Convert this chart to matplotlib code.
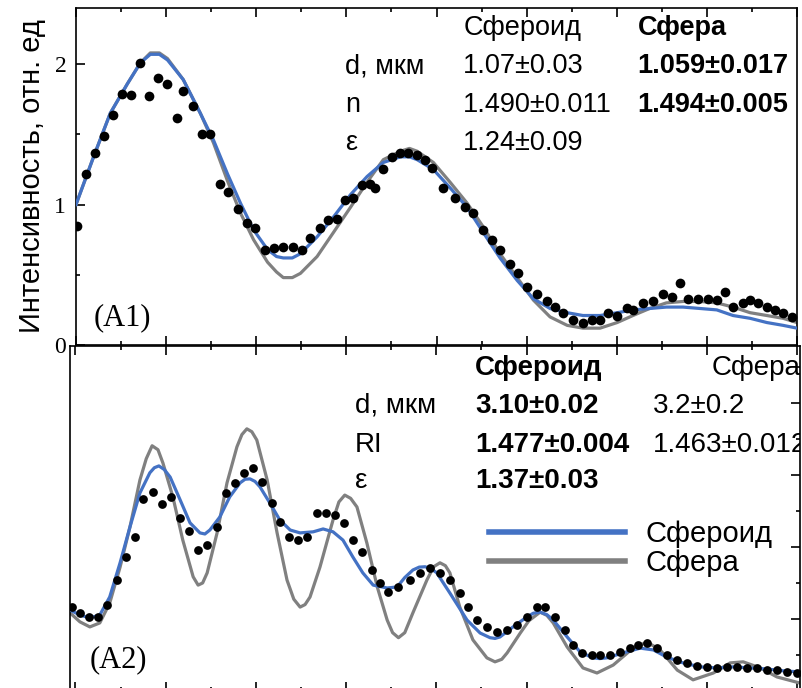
import numpy as np
import matplotlib
matplotlib.use("Agg")
import matplotlib.pyplot as plt
from matplotlib.ticker import MultipleLocator, NullFormatter
from matplotlib.lines import Line2D

plt.rcParams['font.family'] = ['Liberation Sans', 'DejaVu Sans']

BLUE = '#4472C4'
GRAY = '#808080'

# ---- panel A1: measured points and two fits ----
a1_x = [0.03, 0.23, 0.43, 0.63, 0.83, 1.03, 1.23, 1.43, 1.61, 1.81, 2.03, 2.25, 2.38,
        2.60, 2.80, 2.98, 3.20, 3.38, 3.60, 3.80, 3.98, 4.20, 4.40, 4.60, 4.82, 5.02,
        5.20, 5.42, 5.60, 5.80, 5.98, 6.15, 6.35, 6.53, 6.64, 6.82, 7.02, 7.20, 7.37,
        7.57, 7.75, 7.90, 8.15, 8.41, 8.64, 8.81, 9.04, 9.24, 9.41, 9.64, 9.81, 10.01,
        10.23, 10.45, 10.63, 10.81, 11.03, 11.25, 11.45, 11.63, 11.81, 12.01, 12.23,
        12.36, 12.58, 12.80, 13.03, 13.23, 13.40, 13.58, 13.80, 14.02, 14.22, 14.40,
        14.58, 14.80, 14.96, 15.13, 15.33, 15.51, 15.69, 15.89]
a1_y = [0.85, 1.22, 1.37, 1.49, 1.64, 1.79, 1.78, 2.01, 1.77, 1.90, 1.86, 1.62, 1.81,
        1.70, 1.50, 1.50, 1.15, 1.09, 0.97, 0.87, 0.83, 0.68, 0.69, 0.70, 0.70, 0.68,
        0.76, 0.83, 0.89, 0.90, 1.03, 1.05, 1.14, 1.15, 1.12, 1.25, 1.34, 1.37, 1.37,
        1.35, 1.32, 1.26, 1.12, 1.05, 0.98, 0.94, 0.82, 0.75, 0.68, 0.58, 0.51, 0.41,
        0.36, 0.31, 0.27, 0.23, 0.18, 0.16, 0.18, 0.18, 0.23, 0.21, 0.26, 0.25, 0.30,
        0.31, 0.36, 0.34, 0.44, 0.33, 0.33, 0.33, 0.32, 0.38, 0.27, 0.30, 0.32, 0.30,
        0.27, 0.25, 0.23, 0.20]

a1_fit_x = [0.0, 0.39, 0.76, 1.14, 1.43, 1.65, 1.85, 2.03, 2.38, 2.76, 3.05, 3.36, 3.65,
            3.94, 4.25, 4.45, 4.60, 4.80, 4.98, 5.35, 5.71, 6.09, 6.46, 6.82, 7.20, 7.40,
            7.57, 7.93, 8.30, 8.68, 9.04, 9.41, 9.79, 10.15, 10.52, 10.90, 11.25, 11.63,
            12.01, 12.36, 12.73, 13.10, 13.47, 13.85, 14.22, 14.58, 14.96, 15.33, 15.69,
            16.0]
a1_spheroid = [1.00, 1.34, 1.65, 1.86, 2.01, 2.07, 2.07, 2.03, 1.89, 1.65, 1.46, 1.22, 1.01,
               0.82, 0.68, 0.63, 0.62, 0.62, 0.65, 0.77, 0.91, 1.07, 1.20, 1.30, 1.34, 1.34,
               1.32, 1.25, 1.12, 0.98, 0.80, 0.62, 0.46, 0.33, 0.26, 0.23, 0.21, 0.21,
               0.23, 0.25, 0.26, 0.27, 0.27, 0.26, 0.25, 0.21, 0.19, 0.16, 0.14,
               0.12]
a1_sphere = [1.00, 1.34, 1.65, 1.86, 2.01, 2.08, 2.08, 2.04, 1.89, 1.65, 1.44, 1.17, 0.94,
             0.75, 0.59, 0.52, 0.48, 0.48, 0.51, 0.63, 0.80, 0.98, 1.16, 1.32, 1.38, 1.40,
             1.38, 1.30, 1.16, 1.01, 0.84, 0.65, 0.48, 0.32, 0.20, 0.14, 0.12, 0.12,
             0.16, 0.21, 0.26, 0.30, 0.31, 0.31, 0.30, 0.27, 0.23, 0.21, 0.19,
             0.16]

# ---- panel A2 ----
a2_x = [-0.08, 0.10, 0.30, 0.50, 0.70, 0.92, 1.12, 1.32, 1.50, 1.72, 1.92, 2.12, 2.32,
        2.52, 2.72, 2.92, 3.14, 3.34, 3.54, 3.74, 3.94, 4.14, 4.36, 4.53, 4.73, 4.93,
        5.13, 5.35, 5.55, 5.75, 5.95, 6.15, 6.35, 6.57, 6.75, 6.93, 7.15, 7.42, 7.64,
        7.86, 8.08, 8.30, 8.52, 8.70, 8.90, 9.12, 9.34, 9.57, 9.79, 10.01, 10.23, 10.41,
        10.63, 10.85, 11.03, 11.23, 11.45, 11.63, 11.85, 12.07, 12.30, 12.47, 12.67,
        12.89, 13.11, 13.34, 13.56, 13.78, 14.00, 14.22, 14.45, 14.67, 14.89, 15.11,
        15.33, 15.55, 15.77, 16.00]
a2_y = [2.33, 2.17, 2.06, 2.06, 2.39, 3.08, 3.72, 4.28, 5.33, 5.53, 5.19, 5.39, 4.81,
        4.44, 3.92, 4.06, 4.56, 5.50, 5.78, 6.06, 6.19, 5.81, 5.22, 4.69, 4.28, 4.19,
        4.28, 4.94, 4.94, 4.89, 4.67, 4.19, 3.86, 3.36, 3.00, 2.75, 2.89, 3.08, 3.28,
        3.42, 3.28, 3.08, 2.72, 2.33, 1.97, 1.78, 1.64, 1.69, 1.83, 2.06, 2.33, 2.33,
        2.06, 1.69, 1.28, 1.06, 1.00, 1.00, 1.00, 1.08, 1.19, 1.28, 1.33,
        1.19, 1.00, 0.86, 0.78, 0.69, 0.67, 0.64, 0.67, 0.67, 0.64, 0.64,
        0.58, 0.58, 0.53, 0.50]

a2_spheroid_x = [-0.12, 0.10, 0.32, 0.54, 0.76, 0.99, 1.21, 1.43, 1.65, 1.75, 1.85, 1.97,
                 2.10, 2.32, 2.54, 2.76, 2.87, 2.98, 3.20, 3.42, 3.65, 3.76, 3.87, 3.98,
                 4.09, 4.31, 4.53, 4.76, 4.98, 5.27, 5.49, 5.71, 5.93, 6.15, 6.37, 6.60,
                 6.91, 7.13, 7.30, 7.48, 7.62, 7.75, 7.88, 8.01, 8.30, 8.68, 8.97, 9.19,
                 9.30, 9.41, 9.70, 10.01, 10.15, 10.30, 10.45, 10.59, 10.90, 11.19, 11.47,
                 11.62, 11.78, 12.14, 12.52, 12.81, 13.11, 13.47, 13.85, 14.22, 14.58,
                 14.96, 15.33, 15.69, 16.06]
a2_spheroid = [2.25, 2.11, 2.03, 2.11, 2.61, 3.56, 4.56, 5.50, 6.06, 6.20, 6.25, 6.15,
               5.94, 5.31, 4.67, 4.39, 4.36, 4.47, 4.83, 5.39, 5.78, 5.88, 5.89, 5.82,
               5.67, 5.22, 4.75, 4.47, 4.39, 4.42, 4.50, 4.42, 4.19, 3.72, 3.28, 2.94,
               2.86, 2.89, 3.15, 3.36, 3.44, 3.45, 3.40, 3.28, 2.72, 1.97, 1.61, 1.48,
               1.46, 1.50, 1.78, 2.06, 2.16, 2.19, 2.12, 1.97, 1.50, 1.08, 0.92,
               0.90, 0.92, 1.06, 1.19, 1.14, 0.94, 0.78, 0.67, 0.64, 0.67,
               0.64, 0.61, 0.56, 0.53]

a2_sphere_x = [-0.12, 0.10, 0.32, 0.54, 0.76, 0.99, 1.21, 1.43, 1.57, 1.70, 1.83, 1.94,
               2.16, 2.38, 2.61, 2.72, 2.82, 2.92, 3.14, 3.36, 3.58, 3.69, 3.80, 3.91,
               4.02, 4.25, 4.47, 4.69, 4.84, 4.98, 5.09, 5.20, 5.42, 5.71, 5.84, 5.97,
               6.10, 6.24, 6.46, 6.69, 6.91, 7.03, 7.16, 7.30, 7.48, 7.79, 7.94, 8.08,
               8.20, 8.30, 8.52, 8.81, 9.12, 9.30, 9.45, 9.57, 9.86, 10.05, 10.30, 10.45,
               10.59, 10.90, 11.25, 11.56, 11.92, 12.36, 12.67, 12.96, 13.34, 13.69,
               14.14, 14.51, 14.80, 15.18, 15.55, 16.06]
a2_sphere = [2.17, 1.92, 1.78, 1.89, 2.44, 3.44, 4.56, 5.86, 6.45, 6.81, 6.70, 6.33,
             5.39, 4.19, 3.17, 2.94, 3.00, 3.28, 4.39, 5.78, 6.78, 7.12, 7.28, 7.20,
             6.97, 5.86, 4.39, 3.08, 2.55, 2.33, 2.40, 2.61, 3.44, 4.75, 5.25, 5.44,
             5.35, 5.11, 4.11, 2.89, 1.97, 1.62, 1.48, 1.62, 2.17, 3.08, 3.45, 3.56,
             3.48, 3.28, 2.33, 1.42, 0.92, 0.81, 0.88, 1.06, 1.61, 1.95, 2.19, 2.10,
             1.89, 1.22, 0.64, 0.50, 0.72, 1.19, 1.36, 1.14, 0.58, 0.31,
             0.50, 0.78, 0.81, 0.64, 0.39, 0.22]

# fit parameter tables
row_names_a1 = ['d, мкм', 'n', 'ε']
spheroid_a1 = ['1.07±0.03', '1.490±0.011', '1.24±0.09']
sphere_a1 = ['1.059±0.017', '1.494±0.005']
row_names_a2 = ['d, мкм', 'RI', 'ε']
spheroid_a2 = ['3.10±0.02', '1.477±0.004', '1.37±0.03']
sphere_a2 = ['3.2±0.2', '1.463±0.012']

W, H = 803, 688
fig = plt.figure(figsize=(W / 100, H / 100), dpi=100)
ax1 = fig.add_axes([76 / W, 1 - 345 / H, 721 / W, 337 / H])
ax2 = fig.add_axes([70 / W, 1 - 691 / H, 730 / W, 345 / H])

for ax in (ax1, ax2):
    for sp in ax.spines.values():
        sp.set_linewidth(1.2)
    ax.xaxis.set_major_locator(MultipleLocator(2))
    ax.xaxis.set_minor_locator(MultipleLocator(1))
    ax.xaxis.set_major_formatter(NullFormatter())
    ax.tick_params(axis='x', which='both', direction='in', top=True, bottom=True,
                   labelbottom=False, width=1.2)
    ax.tick_params(axis='both', which='major', length=6.5)
    ax.tick_params(axis='both', which='minor', length=3.2)

# --- A1 ---
ax1.plot(a1_fit_x, a1_sphere, color=GRAY, lw=2.3, zorder=2)
ax1.plot(a1_fit_x, a1_spheroid, color=BLUE, lw=2.3, zorder=3)
ax1.plot(a1_x, a1_y, 'o', color='black', ms=7, mec='none', zorder=4)
ax1.set_xlim(0, 16)
ax1.set_ylim(0, 2.4)
ax1.yaxis.set_major_locator(MultipleLocator(1))
ax1.yaxis.set_minor_locator(MultipleLocator(0.5))
ax1.tick_params(axis='y', which='both', direction='in', left=True, right=False,
                width=1.2, pad=7)
for lab in ax1.get_yticklabels():
    lab.set_family('Liberation Serif')
    lab.set_fontsize(17)
ax1.set_ylabel('Интенсивность, отн. ед', fontsize=21, labelpad=6)

fs1 = 19.5
t1 = ax1.transAxes
ax1.text(0.537, 0.920, 'Сфероид', transform=t1, fontsize=fs1)
ax1.text(0.779, 0.920, 'Сфера', transform=t1, fontsize=fs1, fontweight='bold')
for i, yb in enumerate([0.807, 0.691, 0.579]):
    ax1.text(0.373, yb, row_names_a1[i], transform=t1, fontsize=fs1)
    ax1.text(0.537, yb, spheroid_a1[i], transform=t1, fontsize=fs1)
    if i < len(sphere_a1):
        ax1.text(0.779, yb, sphere_a1[i], transform=t1, fontsize=fs1, fontweight='bold')
ax1.text(0.024, 0.059, '(A1)', transform=t1, fontsize=22, family='Liberation Serif')

# --- A2 ---
ax2.plot(a2_sphere_x, a2_sphere, color=GRAY, lw=2.3, zorder=2)
ax2.plot(a2_spheroid_x, a2_spheroid, color=BLUE, lw=2.3, zorder=3)
ax2.plot(a2_x, a2_y, 'o', color='black', ms=6.3, mec='none', zorder=4)
ax2.set_xlim(-0.12, 16.06)
ax2.set_ylim(0, 9.58)
ax2.yaxis.set_major_locator(MultipleLocator(2))
ax2.yaxis.set_minor_locator(MultipleLocator(1))
ax2.tick_params(axis='y', which='both', direction='in', left=False, right=True,
                labelleft=False, labelright=False, width=1.2)

fs2 = 20
t2 = ax2.transAxes
ax2.text(0.555, 0.916, 'Сфероид', transform=t2, fontsize=fs2, fontweight='bold')
ax2.text(0.879, 0.916, 'Сфера', transform=t2, fontsize=fs2, clip_on=True)
for i, yb in enumerate([0.806, 0.693, 0.588]):
    ax2.text(0.390, yb, row_names_a2[i], transform=t2, fontsize=fs2)
    ax2.text(0.555, yb, spheroid_a2[i], transform=t2, fontsize=fs2, fontweight='bold')
    if i < len(sphere_a2):
        ax2.text(0.799, yb, sphere_a2[i], transform=t2, fontsize=fs2, clip_on=True)
ax2.text(0.027, 0.07, '(A2)', transform=t2, fontsize=22, family='Liberation Serif')

handles = [Line2D([], [], color=BLUE, lw=4), Line2D([], [], color=GRAY, lw=4)]
ax2.legend(handles, ['Сфероид', 'Сфера'], loc='upper left',
           bbox_to_anchor=((489 - 70) / 730, (691 - 520) / 345), frameon=False,
           prop={'family': 'Liberation Sans', 'size': 21}, handlelength=4.65,
           handletextpad=0.7, labelspacing=0.05, borderpad=0, borderaxespad=0)

fig.savefig('out.png', dpi=100)
